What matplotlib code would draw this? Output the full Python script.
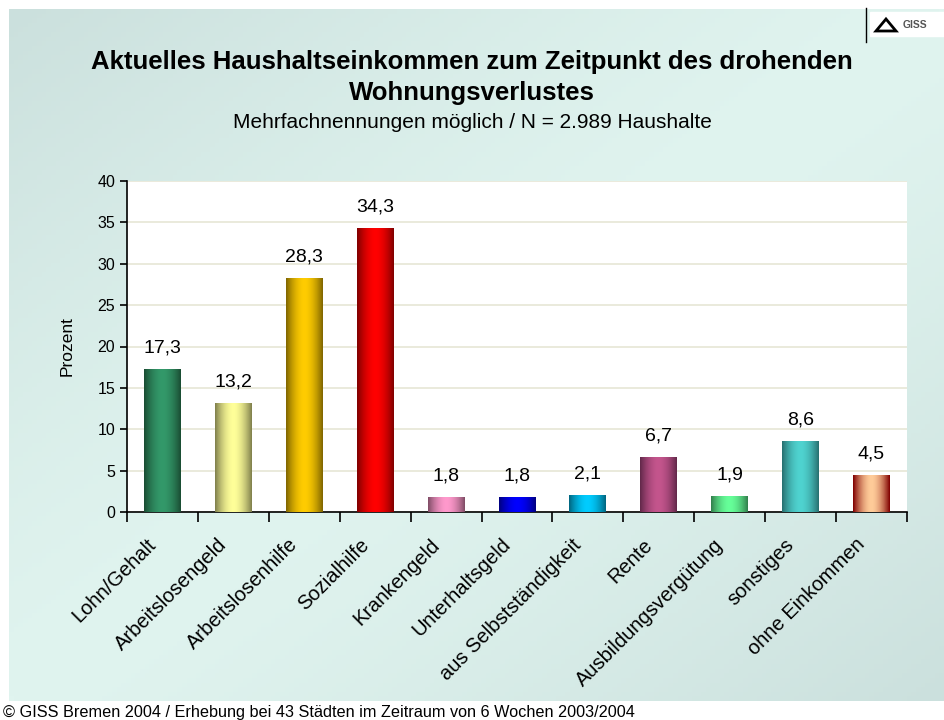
import numpy as np
import matplotlib.pyplot as plt
import matplotlib.transforms as mtransforms
from matplotlib.colors import to_rgb, LinearSegmentedColormap
from matplotlib.patches import Rectangle, Polygon

plt.rcParams['font.family'] = ['Liberation Sans', 'DejaVu Sans']

categories = ['Lohn/Gehalt', 'Arbeitslosengeld', 'Arbeitslosenhilfe', 'Sozialhilfe',
              'Krankengeld', 'Unterhaltsgeld', 'aus Selbstständigkeit', 'Rente',
              'Ausbildungsvergütung', 'sonstiges', 'ohne Einkommen']
values = [17.3, 13.2, 28.3, 34.3, 1.8, 1.8, 2.1, 6.7, 1.9, 8.6, 4.5]
value_labels = ['17,3', '13,2', '28,3', '34,3', '1,8', '1,8', '2,1', '6,7', '1,9', '8,6', '4,5']
# (light centre colour, dark edge colour) for the cylinder look
bar_colors = [('#33996a', '#1a4d33'), ('#ffff99', '#80804d'), ('#ffcc00', '#806600'),
              ('#ff0000', '#800000'), ('#ff99cc', '#804d66'), ('#0000ff', '#000080'),
              ('#00ccff', '#006680'), ('#c4558d', '#62284a'), ('#66ff99', '#33804d'),
              ('#4fd3d0', '#287070'), ('#ffcc99', '#800000')]
yticks = [0, 5, 10, 15, 20, 25, 30, 35, 40]

fig = plt.figure(figsize=(9.44, 7.2), dpi=100, facecolor='white')

# slide background: diagonal gradient, darker in the top-left and bottom-right corners
bg = fig.add_axes([9 / 944, 19 / 720, 935 / 944, 692 / 720], zorder=-10)
bg.axis('off')
gx = np.linspace(0, 1, 200)
gy = np.linspace(0, 1, 150)
X, Y = np.meshgrid(gx, gy)
u = (X + (1 - Y)) / 2
t = np.clip(np.abs(u - 0.5) * 2, 0, 1) ** 1.3
c_mid = np.array(to_rgb('#e0f4ef'))
c_end = np.array(to_rgb('#cbe0dd'))
img = c_mid[None, None, :] * (1 - t[..., None]) + c_end[None, None, :] * t[..., None]
bg.imshow(img, extent=[0, 1, 0, 1], aspect='auto', origin='lower')
bg.set_xlim(0, 1)
bg.set_ylim(0, 1)

# logo top right
lg = fig.add_axes([0, 0, 1, 1], zorder=-5)
lg.axis('off')
lg.set_xlim(0, 944)
lg.set_ylim(720, 0)
lg.plot([866, 866], [8, 42], color='black', lw=1)
lg.add_patch(Rectangle((870, 12), 74, 24, color='white', zorder=2))
lg.add_patch(Polygon([(876, 31), (886, 19), (896, 31)],
                     closed=True, fill=False, edgecolor='black', lw=2, zorder=3))
lg.text(903, 25, 'GISS', fontsize=7.5, fontweight='bold', color='#555555',
        va='center', ha='left', zorder=3)

ax = fig.add_axes([127 / 944, 1 - 512 / 720, 780 / 944, 331 / 720])
ax.set_facecolor('white')
n = len(categories)
x = np.arange(n)
width = 0.52

prof = np.linspace(-1, 1, 64)
shade = 1 - np.abs(prof) ** 1.8
for i, (v, (light, dark)) in enumerate(zip(values, bar_colors)):
    cmap = LinearSegmentedColormap.from_list('b%d' % i, [dark, light])
    left = x[i] - width / 2
    im = ax.imshow(shade[None, :], cmap=cmap, vmin=0, vmax=1, aspect='auto',
                   extent=[left, left + width, 0, v], zorder=3, interpolation='bilinear')
    rect = Rectangle((left, 0), width, v, transform=ax.transData, facecolor='none', edgecolor='none')
    ax.add_patch(rect)
    im.set_clip_path(rect)
    ax.text(x[i], v + 1.5, value_labels[i], ha='center', va='bottom', fontsize=14, zorder=4)

ax.set_xlim(-0.5, n - 0.5)
ax.set_ylim(0, 40)
ax.set_yticks(yticks)
ax.set_yticklabels([str(t) for t in yticks], fontsize=11.5)
ax.yaxis.grid(True, color='#e6e6d6', lw=1.2)
ax.set_axisbelow(True)
ax.set_xticks(np.arange(-0.5, n, 1.0))
ax.set_xticklabels([])
ax.set_xticks(x, minor=True)
ax.set_xticklabels(categories, minor=True, rotation=45, ha='right', va='top',
                   rotation_mode='anchor', fontsize=14.5)
ax.tick_params(axis='x', which='minor', length=0, pad=8)
ax.tick_params(axis='x', which='major', length=7, direction='out', width=1.2)
ax.tick_params(axis='y', length=5, direction='out', width=1.2)
# nudge the slanted labels down-left like the original
shift = mtransforms.ScaledTranslation(-16 / 100, -12 / 100, fig.dpi_scale_trans)
for lab in ax.get_xticklabels(minor=True):
    lab.set_transform(lab.get_transform() + shift)
for s in ['top', 'right']:
    ax.spines[s].set_visible(False)
for s in ['left', 'bottom']:
    ax.spines[s].set_linewidth(1.2)
ax.set_ylabel('Prozent', fontsize=12.5, labelpad=16)

fig.text(0.5, 1 - 62 / 720, 'Aktuelles Haushaltseinkommen zum Zeitpunkt des drohenden',
         ha='center', va='center', fontsize=18.5, fontweight='bold')
fig.text(0.5, 1 - 93 / 720, 'Wohnungsverlustes',
         ha='center', va='center', fontsize=18.5, fontweight='bold')
fig.text(0.5, 1 - 122 / 720, 'Mehrfachnennungen möglich / N = 2.989 Haushalte',
         ha='center', va='center', fontsize=15)
fig.text(3 / 944, 1 - 712 / 720,
         '© GISS Bremen 2004 / Erhebung bei 43 Städten im Zeitraum von 6 Wochen 2003/2004',
         ha='left', va='center', fontsize=11.7)

fig.savefig('out.png', dpi=100)
